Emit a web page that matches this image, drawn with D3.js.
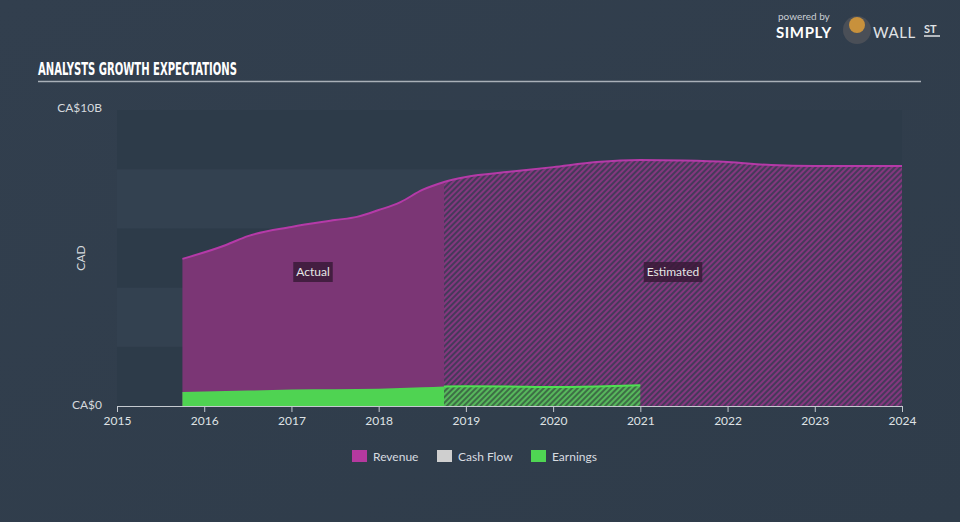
<!DOCTYPE html>
<html><head><meta charset="utf-8">
<script src="https://cdn.jsdelivr.net/npm/d3@7"></script>
<style>
html,body{margin:0;padding:0;background:#323f4e;}
svg{display:block;font-family:Lato,"Open Sans",sans-serif;}
</style></head>
<body><svg id="c" width="960" height="522"></svg>
<script>
const years = [2015,2016,2017,2018,2019,2020,2021,2022,2023,2024];
const revenueX = [2015.75,2016.25,2016.5,2017,2017.5,2017.75,2018,2018.25,2018.5,2018.75,2019,2019.5,2020,2020.5,2021,2021.5,2022,2022.5,2023,2024.0];
const revenueY = [4.97,5.44,5.74,6.05,6.28,6.39,6.62,6.89,7.30,7.57,7.74,7.91,8.07,8.24,8.31,8.29,8.24,8.14,8.11,8.11];
const earningsX = [2015.75,2016.5,2017,2017.5,2018,2018.5,2018.75,2019,2019.5,2020,2020.5,2021];
const earningsY = [0.47,0.52,0.56,0.57,0.58,0.63,0.66,0.67,0.66,0.64,0.66,0.70];
const splitYear = 2018.75;
const yTicks = [0,10];
const yTickLabels = ["CA$0","CA$10B"];
const legendItems = ["Revenue","Cash Flow","Earnings"];
const legendColors = ["#b5399f","#cfcfcf","#4fd553"];

const svg = d3.select("#c");
const x = d3.scaleLinear().domain([2015,2024]).range([117,902]);
const y = d3.scaleLinear().domain([0,10]).range([406,110]);

const defs = svg.append("defs");
const bg = defs.append("linearGradient").attr("id","bg").attr("x1",0).attr("y1",0).attr("x2",1).attr("y2",1);
bg.append("stop").attr("offset","0%").attr("stop-color","#323f4e");
bg.append("stop").attr("offset","100%").attr("stop-color","#2f3c4a");
svg.append("rect").attr("width",960).attr("height",522).attr("fill","url(#bg)");

function hatch(id, base, stripe){
  const p = defs.append("pattern").attr("id",id).attr("patternUnits","userSpaceOnUse")
    .attr("width",4).attr("height",4).attr("patternTransform","rotate(45)");
  p.append("rect").attr("width",4).attr("height",4).attr("fill",base);
  p.append("rect").attr("width",2).attr("height",4).attr("fill",stripe);
}
hatch("hRev","#453a5a","#84377e");
hatch("hEarn","#3d6e45","#57b85c");

const bands = d3.range(0,10,2);
svg.append("g").selectAll("rect").data(bands).join("rect")
  .attr("x",x(2015)).attr("width",x(2024)-x(2015))
  .attr("y",d=>y(d+2)).attr("height",d=>y(d)-y(d+2))
  .attr("fill",(d,i)=> i%2===0 ? "#2d3b49" : "#334150");

svg.append("text").attr("x",38).attr("y",75).text("ANALYSTS GROWTH EXPECTATIONS")
  .attr("fill","#ffffff").attr("font-family","'Liberation Sans Narrow','DejaVu Sans Condensed',sans-serif")
  .attr("font-weight","bold").attr("font-size",17).attr("textLength",199).attr("lengthAdjust","spacingAndGlyphs");
svg.append("line").attr("x1",38).attr("x2",921).attr("y1",81.5).attr("y2",81.5).attr("stroke","#a9b0b8").attr("stroke-width",1.5);

// logo
svg.append("text").attr("x",778).attr("y",20).text("powered by").attr("fill","#c9ced4").attr("font-size",10);
svg.append("text").attr("x",776).attr("y",38).text("SIMPLY").attr("fill","#ffffff").attr("font-weight","bold").attr("font-size",15).attr("letter-spacing",0.6);
svg.append("circle").attr("cx",857).attr("cy",30).attr("r",14).attr("fill","#4a4f57");
svg.append("circle").attr("cx",857).attr("cy",25).attr("r",8).attr("fill","#c8913c");
svg.append("text").attr("x",873).attr("y",38).text("WALL").attr("fill","#e0e3e6").attr("font-size",15).attr("letter-spacing",0.6);
svg.append("text").attr("x",924).attr("y",33).text("ST").attr("fill","#e0e3e6").attr("font-weight","bold").attr("font-size",11);
svg.append("line").attr("x1",924).attr("x2",940).attr("y1",36).attr("y2",36).attr("stroke","#e0e3e6").attr("stroke-width",1.5);

const rev = revenueX.map((d,i)=>({x:d,y:revenueY[i]}));
const earn = earningsX.map((d,i)=>({x:d,y:earningsY[i]}));
const area = d3.area().x(d=>x(d.x)).y0(y(0)).y1(d=>y(d.y)).curve(d3.curveMonotoneX);
const line = d3.line().x(d=>x(d.x)).y(d=>y(d.y)).curve(d3.curveMonotoneX);

defs.append("clipPath").attr("id","cA").append("rect").attr("x",0).attr("y",0).attr("width",x(splitYear)).attr("height",522);
defs.append("clipPath").attr("id","cE").append("rect").attr("x",x(splitYear)).attr("y",0).attr("width",960).attr("height",522);

svg.append("path").datum(rev).attr("d",area).attr("fill","#7b3675").attr("clip-path","url(#cA)");
svg.append("path").datum(rev).attr("d",area).attr("fill","url(#hRev)").attr("clip-path","url(#cE)");
svg.append("path").datum(rev).attr("d",line).attr("fill","none").attr("stroke","#b53aa8").attr("stroke-width",2);

svg.append("path").datum(earn).attr("d",area).attr("fill","#4fd352").attr("clip-path","url(#cA)");
svg.append("path").datum(earn).attr("d",area).attr("fill","url(#hEarn)").attr("clip-path","url(#cE)");
svg.append("path").datum(earn).attr("d",line).attr("fill","none").attr("stroke","#4fe052").attr("stroke-width",2).attr("clip-path","url(#cE)");

function tag(txt, cx){
  const g = svg.append("g");
  const t = g.append("text").attr("x",cx).attr("y",276).attr("text-anchor","middle").text(txt)
    .attr("fill","#e6e6e6").attr("font-size",12);
  const b = t.node().getBBox();
  g.insert("rect","text").attr("x",b.x-3).attr("y",262).attr("width",b.width+6).attr("height",20).attr("fill","#3a1a38").attr("opacity",0.85);
}
tag("Actual",313);
tag("Estimated",673);

const xa = svg.append("g").attr("transform",`translate(0,${y(0)})`)
  .call(d3.axisBottom(x).tickValues(years).tickFormat(d3.format("d")).tickSize(6).tickSizeOuter(0));
xa.select(".domain").attr("stroke","#c5cad0");
xa.selectAll(".tick line").attr("stroke","#c5cad0");
xa.selectAll("text").attr("fill","#dfe2e5").attr("font-size",12).attr("font-family","Lato,sans-serif").attr("dy","0.85em");

svg.append("g").selectAll("text").data(yTicks).join("text")
  .attr("x",102).attr("y",d=> d===0 ? y(d)+3 : y(d)+2)
  .attr("text-anchor","end").text((d,i)=>yTickLabels[i]).attr("fill","#d5d9dd").attr("font-size",12);
svg.append("text").attr("transform","translate(85,258) rotate(-90)").attr("text-anchor","middle")
  .text("CAD").attr("fill","#d5d9dd").attr("font-size",12);

const lx = [352,437,531];
const lg = svg.append("g").selectAll("g").data(legendItems).join("g").attr("transform",(d,i)=>`translate(${lx[i]},450)`);
lg.append("rect").attr("width",15).attr("height",12).attr("fill",(d,i)=>legendColors[i]);
lg.append("text").attr("x",21).attr("y",10.5).text(d=>d).attr("fill","#d8dce0").attr("font-size",12);
</script></body></html>
